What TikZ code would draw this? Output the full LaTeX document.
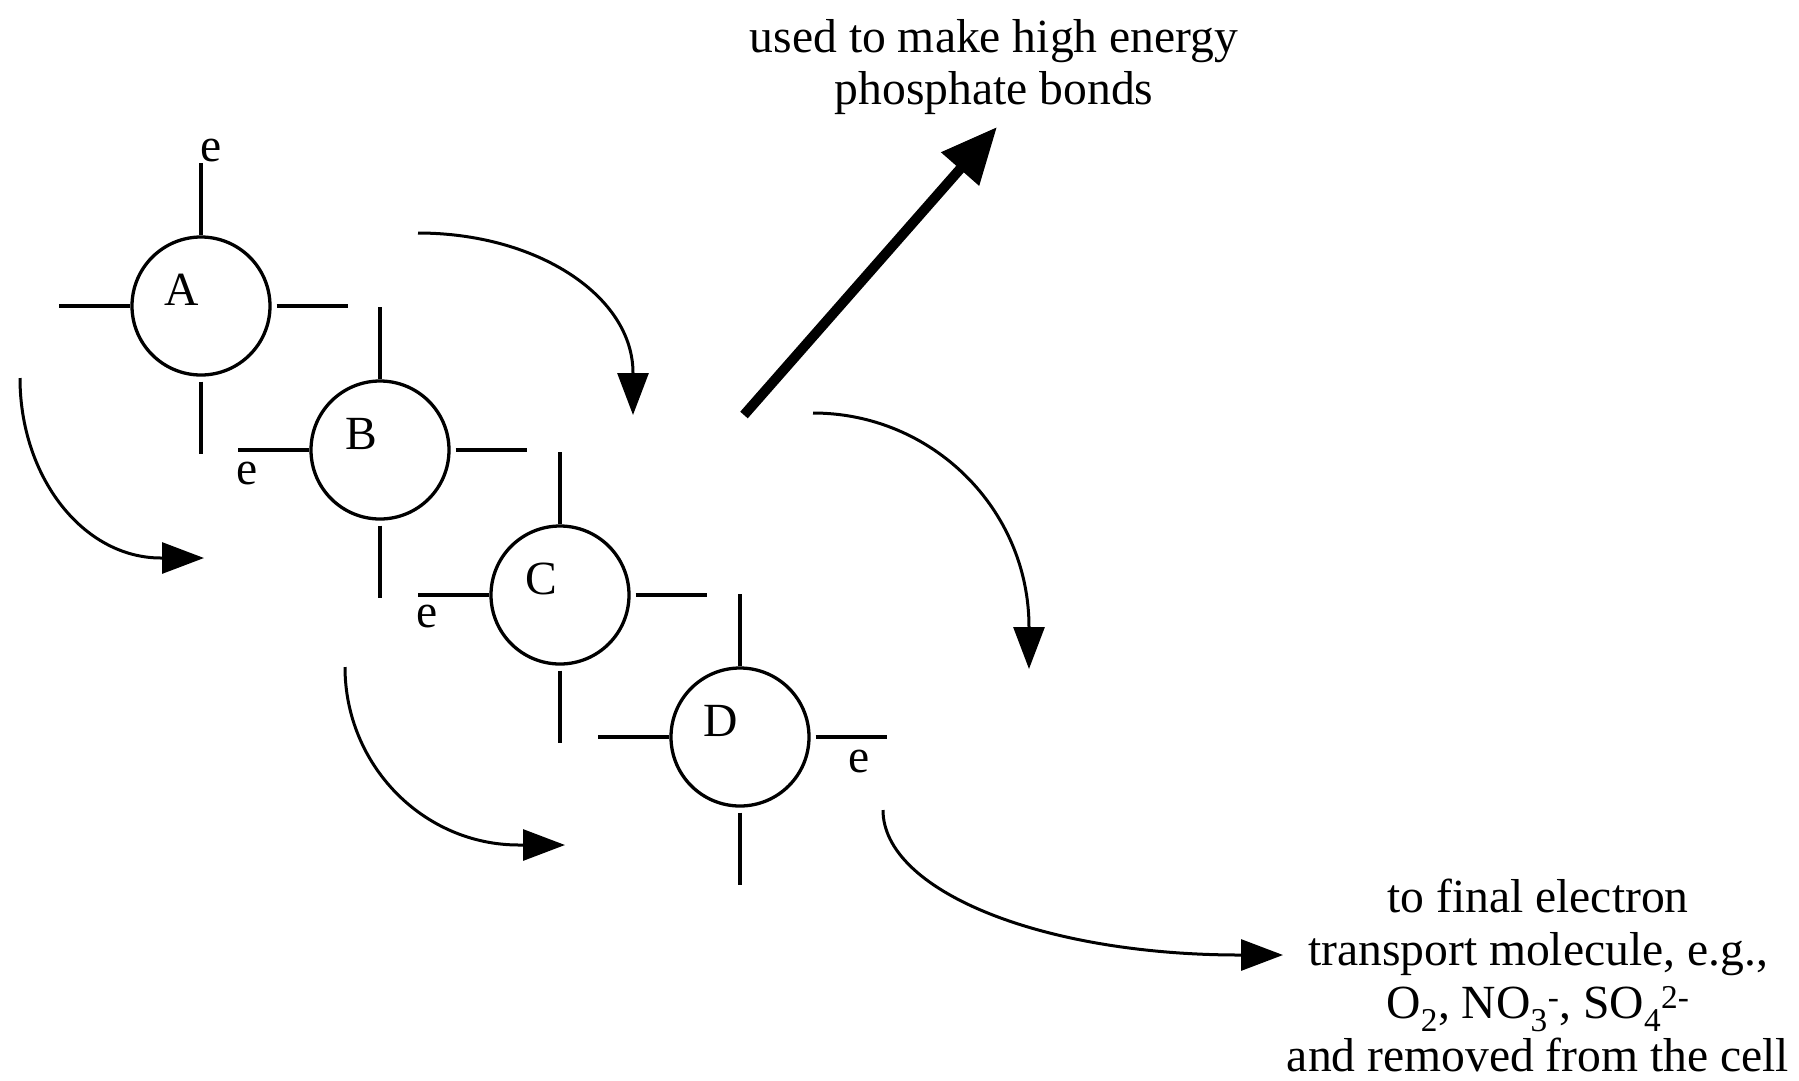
\documentclass[tikz,border=0pt]{standalone}
\usepackage{fontspec}
\setmainfont{Liberation Serif}
\usetikzlibrary{arrows.meta}
\begin{document}
\begin{tikzpicture}[x=1pt,y=-1pt,
  mol/.style={circle,draw,line width=3.3pt,minimum size=138pt,inner sep=0pt},
  spoke/.style={line width=3.3pt},
  txt/.style={font=\fontsize{47.6}{53}\selectfont,inner sep=0pt},
  flow/.style={line width=3pt,-{Triangle[length=42pt,width=31pt]}},
  big/.style={line width=10pt,-{Triangle[length=56pt,width=48pt]}}]
\useasboundingbox (0,0) rectangle (1799,1080);

% molecules
\node[mol] (A) at (201,306) {};
\node[mol] (B) at (380,450) {};
\node[mol] (C) at (560,595) {};
\node[mol] (D) at (740,737) {};
\foreach \n in {A,B,C,D} {
  \draw[spoke] (\n.north) -- ++(0,-72);
  \draw[spoke] (\n.west) -- ++(-71,0);
  \draw[spoke] ([xshift=5pt]\n.east) -- ++(71,0);
  \draw[spoke] ([yshift=-5pt]\n.south) -- ++(0,72);
}
\node[txt] (lA) at ([shift={(-19,-16)}]A.center) {A};
\node[txt] (lB) at ([shift={(-19,-16)}]B.center) {B};
\node[txt] (lC) at ([shift={(-19,-16)}]C.center) {C};
\node[txt] (lD) at ([shift={(-19,-16)}]D.center) {D};

\node[txt] (eA) at ([shift={(10,-155)}]A.center) {e};
\node[txt] (eB) at ([shift={(-133,24)}]B.center) {e};
\node[txt] (eC) at ([shift={(-133,22)}]C.center) {e};
\node[txt] (eD) at ([shift={(119,25)}]D.center) {e};

% curved arrows
\coordinate (s1) at (20,378);  \coordinate (t1) at (204,558);
\draw[flow] (s1) .. controls (20,477) and (83,558) .. (161,558) -- (t1);
\coordinate (s2) at (345,667); \coordinate (t2) at (565,845);
\draw[flow] (s2) .. controls (345,765) and (423,845) .. (519,845) -- (t2);
\coordinate (s3) at (418,233); \coordinate (t3) at (633,415);
\draw[flow] (s3) .. controls (537,233) and (633,296) .. (633,373) -- (t3);
\coordinate (s4) at (813,413); \coordinate (t4) at (1029,669);
\draw[flow] (s4) .. controls (932,413) and (1029,509) .. (1029,627) -- (t4);
\coordinate (s5) at (883,810); \coordinate (t5) at (1283,955);
\draw[flow] (s5) .. controls (883,890) and (1040,955) .. (1240,955) -- (t5);

% thick arrow
\coordinate (s6) at (744,415); \coordinate (t6) at (997,127);
\draw[big] (s6) -- (t6);

% texts
\node[txt,align=center,anchor=base,font=\fontsize{47.6}{52}\selectfont] (top) at (994,104) {used to make high energy\\phosphate bonds};
\node[txt,align=center,anchor=base,font=\fontsize{47.6}{53}\selectfont] (bot) at (1538,1071) {to final electron\\transport molecule, e.g.,\\O\textsubscript{2}, NO\textsubscript{3}\textsuperscript{-}, SO\textsubscript{4}\textsuperscript{2-}\\and removed from the cell};
\end{tikzpicture}
\end{document}
